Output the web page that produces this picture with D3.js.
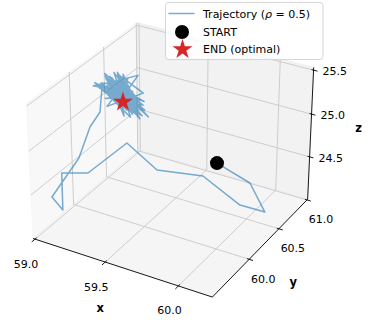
<!DOCTYPE html>
<html>
<head>
<meta charset="utf-8">
<script src="https://cdn.jsdelivr.net/npm/d3@7"></script>
<style>
  body { margin: 0; background: #fff; }
  text { font-family: "DejaVu Sans", sans-serif; }
</style>
</head>
<body>
<svg id="chart" width="370" height="320"></svg>
<script>
// --- data: trajectory (first point = START, last point = END) ---
// approach path
const pathX = [59.765, 59.983, 60.200, 59.984, 59.668, 59.410, 59.211, 59.086, 59.015, 59.024, 59.022, 59.082, 59.051, 59.092];
const pathY = [60.557, 60.589, 60.308, 60.425, 60.555, 60.396, 60.359, 60.026, 59.791, 59.771, 59.631, 59.911, 60.142, 60.211];
const pathZ = [24.50, 24.35, 24.31, 24.20, 24.30, 24.35, 24.60, 24.40, 24.52, 24.10, 24.35, 24.65, 24.85, 25.00];
// oscillation around the optimum (last value = END)
const cloudX = [
  59.105, 59.315, 59.175, 59.385, 59.235, 59.415, 59.145, 59.285, 59.195, 59.355,
  59.125, 59.325, 59.255, 59.375, 59.165, 59.295, 59.085, 59.345, 59.215, 59.405,
  59.185, 59.265, 59.135, 59.335, 59.225, 59.425, 59.155, 59.305, 59.205, 59.365,
  59.115, 59.275, 59.175, 59.395, 59.245, 59.345, 59.095, 59.315, 59.195, 59.385,
  59.145, 59.295, 59.225, 59.355, 59.125, 59.325, 59.165, 59.415, 59.255, 59.185,
  59.375, 59.105, 59.285, 59.215, 59.335, 59.135, 59.365, 59.235, 59.305, 59.155,
  59.395, 59.205, 59.265, 59.115, 59.345, 59.245, 59.385, 59.175, 59.315, 59.085,
  59.295, 59.195, 59.405, 59.225, 59.355, 59.145, 59.275, 59.205, 59.365, 59.165,
  59.325, 59.235, 59.375, 59.185, 59.285, 59.215, 59.305, 59.245, 59.275, 59.265, 59.265];
const cloudY = [
  60.228, 60.148, 60.258, 60.178, 60.238, 60.128, 60.208, 60.248, 60.158, 60.218,
  60.138, 60.268, 60.168, 60.198, 60.248, 60.188, 60.228, 60.138, 60.238, 60.178,
  60.258, 60.148, 60.208, 60.168, 60.268, 60.158, 60.218, 60.128, 60.248, 60.198,
  60.178, 60.258, 60.148, 60.228, 60.188, 60.238, 60.138, 60.218, 60.168, 60.268,
  60.208, 60.158, 60.248, 60.128, 60.228, 60.198, 60.148, 60.258, 60.178, 60.238,
  60.168, 60.208, 60.138, 60.248, 60.188, 60.228, 60.158, 60.268, 60.178, 60.198,
  60.238, 60.148, 60.218, 60.128, 60.258, 60.188, 60.228, 60.168, 60.248, 60.138,
  60.208, 60.238, 60.178, 60.258, 60.158, 60.198, 60.218, 60.148, 60.228, 60.188,
  60.248, 60.168, 60.208, 60.178, 60.218, 60.188, 60.208, 60.198, 60.198, 60.198, 60.198];
const cloudZ = [
  25.32, 25.16, 25.46, 25.22, 25.38, 25.12, 25.42, 25.26, 25.48, 25.08,
  25.34, 25.24, 25.50, 25.14, 25.40, 25.30, 25.28, 25.10, 25.44, 25.20,
  25.36, 25.18, 25.46, 25.32, 25.16, 25.26, 25.40, 25.10, 25.48, 25.22,
  25.30, 25.44, 25.14, 25.34, 25.50, 25.08, 25.38, 25.24, 25.42, 25.12,
  25.32, 25.46, 25.20, 25.36, 25.16, 25.28, 25.48, 25.06, 25.40, 25.26,
  25.14, 25.34, 25.44, 25.22, 25.10, 25.38, 25.30, 25.46, 25.18, 25.32,
  25.24, 25.42, 25.12, 25.36, 25.50, 25.20, 25.08, 25.40, 25.28, 25.34,
  25.46, 25.16, 25.30, 25.14, 25.38, 25.42, 25.22, 25.32, 25.10, 25.36,
  25.26, 25.44, 25.18, 25.30, 25.24, 25.34, 25.22, 25.26, 25.23, 25.21, 25.20];

// axis limits and ticks
const xLim = [59.01, 60.20], yLim = [59.45, 60.98], zLim = [24.02, 25.50];
const xTicks = [59.0, 59.5, 60.0];
const yTicks = [60.0, 60.5, 61.0];
const zTicks = [24.5, 25.0, 25.5];
const legendLabels = ["START", "END (optimal)"];

const svg = d3.select("#chart");

// --- 3d projection (elev 30, azim -60, dist 10, box aspect 4:4:3) ---
const elev = 30 * Math.PI / 180, azim = -60 * Math.PI / 180, dist = 10;
const boxNorm = Math.hypot(4, 4, 3);
const box = [4, 4, 3].map(v => v * 1.8294640721620434 / boxNorm);
const R = box.map(v => v / 2);
const n = [Math.cos(azim) * Math.cos(elev), Math.sin(azim) * Math.cos(elev), Math.sin(elev)];
let u = [-n[1], n[0], 0];
const un = Math.hypot(u[0], u[1]);
u = u.map(v => v / un);
const v = [n[1] * u[2] - n[2] * u[1], n[2] * u[0] - n[0] * u[2], n[0] * u[1] - n[1] * u[0]];
const dot = (a, b) => a[0] * b[0] + a[1] * b[1] + a[2] * b[2];

const sx = d3.scaleLinear().domain(xLim).range([0, box[0]]);
const sy = d3.scaleLinear().domain(yLim).range([0, box[1]]);
const sz = d3.scaleLinear().domain(zLim).range([0, box[2]]);
const px = d3.scaleLinear().domain([-0.095, 0.09]).range([8.9, 328.2]);
const py = d3.scaleLinear().domain([-0.095, 0.09]).range([317.2, -2.1]);

function proj(x, y, z) {
  const q = [sx(x) - R[0], sy(y) - R[1], sz(z) - R[2]];
  const w = dist - dot(n, q);
  return [px(dot(u, q) / w), py(dot(v, q) / w)];
}

// extended bounds (panes reach a little past the limits)
const ext = l => [l[0] - (l[1] - l[0]) / 48, l[1] + (l[1] - l[0]) / 48];
const xe = ext(xLim), ye = ext(yLim), ze = ext(zLim);

const line = d3.line();

// --- panes ---
const panes = [
  { pts: [[xe[0], ye[0], ze[0]], [xe[0], ye[1], ze[0]], [xe[0], ye[1], ze[1]], [xe[0], ye[0], ze[1]]], fill: "rgba(242,242,242,0.5)" },
  { pts: [[xe[0], ye[1], ze[0]], [xe[1], ye[1], ze[0]], [xe[1], ye[1], ze[1]], [xe[0], ye[1], ze[1]]], fill: "rgba(230,230,230,0.5)" },
  { pts: [[xe[0], ye[0], ze[0]], [xe[1], ye[0], ze[0]], [xe[1], ye[1], ze[0]], [xe[0], ye[1], ze[0]]], fill: "rgba(236,236,236,0.5)" }
];
svg.append("g").selectAll("path").data(panes).join("path")
  .attr("d", d => line(d.pts.map(p => proj(...p))) + "Z")
  .attr("fill", d => d.fill)
  .attr("stroke", d => d.fill)
  .attr("stroke-width", 1);

// --- grid ---
const grid = svg.append("g").attr("fill", "none").attr("stroke", "#c8c8c8").attr("stroke-width", 0.9);
xTicks.forEach(t => grid.append("path").attr("d", line([[t, ye[0], ze[0]], [t, ye[1], ze[0]], [t, ye[1], ze[1]]].map(p => proj(...p)))));
yTicks.forEach(t => grid.append("path").attr("d", line([[xe[0], t, ze[1]], [xe[0], t, ze[0]], [xe[1], t, ze[0]]].map(p => proj(...p)))));
zTicks.forEach(t => grid.append("path").attr("d", line([[xe[1], ye[1], t], [xe[0], ye[1], t], [xe[0], ye[0], t]].map(p => proj(...p)))));

// --- axis lines ---
const axes = svg.append("g").attr("stroke", "#000").attr("stroke-width", 0.9).attr("fill", "none");
axes.append("path").attr("d", line([proj(xe[0], ye[0], ze[0]), proj(xe[1], ye[0], ze[0])]));
axes.append("path").attr("d", line([proj(xe[1], ye[0], ze[0]), proj(xe[1], ye[1], ze[0])]));
axes.append("path").attr("d", line([proj(xe[1], ye[1], ze[0]), proj(xe[1], ye[1], ze[1])]));

// tick marks
const xr = xLim[1] - xLim[0], yr = yLim[1] - yLim[0];
xTicks.forEach(t => axes.append("path").attr("d", line([proj(t, ye[0] + 0.015 * yr, ze[0]), proj(t, ye[0] - 0.03 * yr, ze[0])])));
yTicks.forEach(t => axes.append("path").attr("d", line([proj(xe[1] - 0.012 * xr, t, ze[0]), proj(xe[1] + 0.022 * xr, t, ze[0])])));
zTicks.forEach(t => axes.append("path").attr("d", line([proj(xe[1] - 0.012 * xr, ye[1], t), proj(xe[1] + 0.022 * xr, ye[1], t)])));

// tick labels
const fmt = d3.format(".1f");
const labels = svg.append("g").attr("font-size", 11).attr("fill", "#000");
xTicks.forEach(t => {
  const [a, b] = proj(t, ye[0], ze[0]);
  labels.append("text").attr("x", a - 9).attr("y", b + 25).attr("text-anchor", "middle")
    .attr("dominant-baseline", "central").text(fmt(t));
});
yTicks.forEach(t => {
  const [a, b] = proj(xe[1], t, ze[0]);
  labels.append("text").attr("x", a + 14).attr("y", b + 20).attr("text-anchor", "middle")
    .attr("dominant-baseline", "central").text(fmt(t));
});
zTicks.forEach(t => {
  const [a, b] = proj(xe[1], ye[1], t);
  labels.append("text").attr("x", a + 9).attr("y", b + 1.5).attr("text-anchor", "start")
    .attr("dominant-baseline", "central").text(fmt(t));
});

// axis titles
const xm = proj((xLim[0] + xLim[1]) / 2, ye[0], ze[0]);
const ym = proj(xe[1], (yLim[0] + yLim[1]) / 2, ze[0]);
const zm = proj(xe[1], ye[1], (zLim[0] + zLim[1]) / 2);
const titles = svg.append("g").attr("font-size", 11.5).attr("font-weight", "bold")
  .attr("text-anchor", "middle").attr("dominant-baseline", "central");
titles.append("text").attr("x", xm[0] - 20).attr("y", xm[1] + 41).text("x");
titles.append("text").attr("x", ym[0] + 31).attr("y", ym[1] + 36).text("y");
titles.append("text").attr("x", zm[0] + 48).attr("y", zm[1] - 7).text("z");

// --- trajectory ---
const trajX = pathX.concat(cloudX), trajY = pathY.concat(cloudY), trajZ = pathZ.concat(cloudZ);
const pts = trajX.map((x, i) => proj(x, trajY[i], trajZ[i]));
svg.append("path").attr("d", line(pts))
  .attr("fill", "none").attr("stroke", "#1f77b4").attr("stroke-opacity", 0.6)
  .attr("stroke-width", 1.5).attr("stroke-linejoin", "round");

const start = pts[0], end = pts[pts.length - 1];
svg.append("circle").attr("cx", start[0]).attr("cy", start[1]).attr("r", 7).attr("fill", "#000");
const star = d3.symbol(d3.symbolStar, 124);
svg.append("path").attr("d", star()).attr("transform", `translate(${end[0]},${end[1]})`)
  .attr("fill", "#d62728");

// --- legend ---
const lg = svg.append("g").attr("transform", "translate(165.5,2.5)");
lg.append("rect").attr("width", 157.5).attr("height", 57).attr("rx", 3)
  .attr("fill", "#fff").attr("fill-opacity", 0.8).attr("stroke", "#cccccc").attr("stroke-width", 0.8);
lg.append("line").attr("x1", 3).attr("x2", 29).attr("y1", 11).attr("y2", 11)
  .attr("stroke", "#1f77b4").attr("stroke-opacity", 0.6).attr("stroke-width", 1.5);
lg.append("circle").attr("cx", 16.5).attr("cy", 29.5).attr("r", 7).attr("fill", "#000");
lg.append("path").attr("d", star()).attr("transform", "translate(17,47)").attr("fill", "#d62728");
const t0 = lg.append("text").attr("x", 37.5).attr("y", 11).attr("font-size", 11).attr("dominant-baseline", "central");
t0.append("tspan").text("Trajectory (");
t0.append("tspan").attr("font-style", "italic").text("ρ");
t0.append("tspan").text(" = 0.5)");
lg.selectAll("text.item").data(legendLabels).join("text").attr("class", "item")
  .attr("x", 37.5).attr("y", (d, i) => 29.5 + i * 17.5).attr("font-size", 11)
  .attr("dominant-baseline", "central").text(d => d);
</script>
</body>
</html>
